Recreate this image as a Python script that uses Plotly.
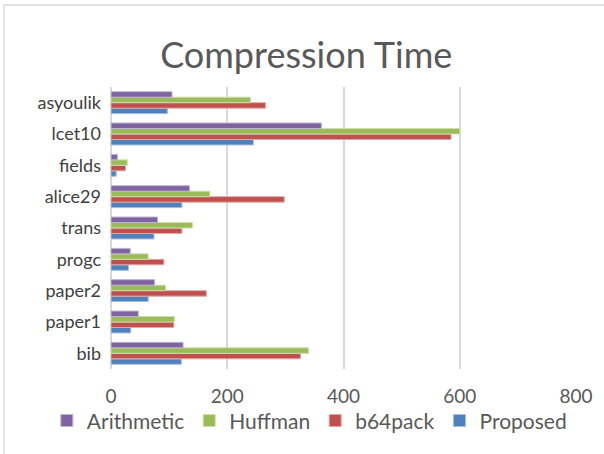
import plotly.graph_objects as go

# Files, listed bottom-to-top as they appear on the category axis
files = ["bib", "paper1", "paper2", "progc", "trans", "alice29", "fields", "lcet10", "asyoulik"]

arithmetic = [124, 47, 75, 33, 80, 135, 11, 362, 105]
huffman = [340, 109, 94, 64, 140, 170, 28, 600, 240]
b64pack = [326, 108, 164, 91, 122, 298, 25, 585, 266]
proposed = [121, 34, 64, 30, 74, 122, 9, 245, 97]

x_ticks = [0, 200, 400, 600, 800]

# (name, values, fill, edge) — added bottom-up within each group
series = [
    ("Proposed", proposed, "#4F81BD", "#A7C0DE"),
    ("b64pack", b64pack, "#C0504D", "#DFA8A6"),
    ("Huffman", huffman, "#9BBB59", "#CDDDAC"),
    ("Arithmetic", arithmetic, "#8064A2", "#BFB1D0"),
]

text_color = "#595959"
font_family = "Lato, 'Open Sans', sans-serif"

fig = go.Figure()
for name, vals, fill, edge in series:
    fig.add_trace(go.Bar(
        x=vals, y=files, name=name, orientation="h",
        marker=dict(color=fill, line=dict(color=edge, width=1)),
    ))

fig.update_layout(
    width=604, height=454,
    margin=dict(l=111, r=28, t=87, b=85, autoexpand=False),
    paper_bgcolor="white", plot_bgcolor="white",
    barmode="group", bargap=0.3, bargroupgap=0,
    font=dict(family=font_family, color=text_color, size=19),
    title=dict(text="Compression Time", x=0.507, xanchor="center",
               yref="container", y=0.879, yanchor="middle",
               font=dict(size=36, color=text_color, family=font_family)),
    showlegend=True,
    legend=dict(orientation="h", traceorder="reversed",
                x=-0.138, xanchor="left",
                y=-0.184, yanchor="middle",
                font=dict(size=21, color=text_color),
                itemwidth=30, bgcolor="rgba(0,0,0,0)"),
    xaxis=dict(range=[0, 800], tickvals=x_ticks, ticktext=[str(v) for v in x_ticks],
               showgrid=True, gridcolor="#D9D9D9", gridwidth=2,
               zeroline=True, zerolinecolor="#D9D9D9", zerolinewidth=2,
               showline=False, ticks="", ticklabelstandoff=14,
               tickfont=dict(size=19, color=text_color), fixedrange=True),
    yaxis=dict(categoryorder="array", categoryarray=files,
               showgrid=False, zeroline=False, showline=False, ticks="",
               ticklabelstandoff=9,
               tickfont=dict(size=18, color="#404040")),
    shapes=[dict(type="rect", xref="paper", yref="paper",
                 x0=-0.230, x1=1.2, y0=-0.5, y1=1.291,
                 line=dict(color="#D9D9D9", width=1.5), fillcolor="rgba(0,0,0,0)",
                 layer="below")],
)

fig.write_html("out.html")
